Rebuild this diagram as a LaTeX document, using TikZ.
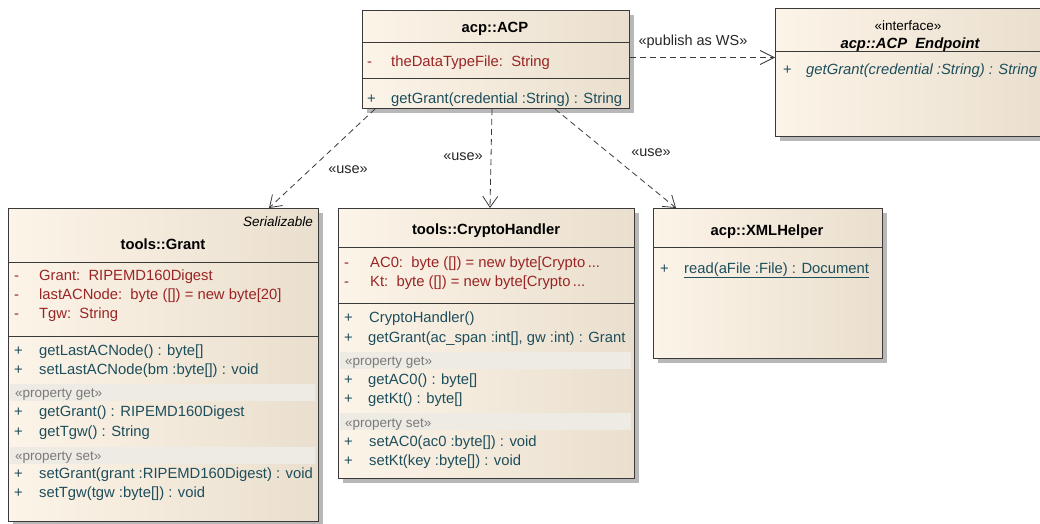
\documentclass[tikz,border=0pt]{standalone}
\usepackage{fontspec}
\setmainfont{Liberation Sans}
\usetikzlibrary{arrows.meta,shadows,calc}
\definecolor{attrc}{HTML}{9A2424}
\definecolor{opc}{HTML}{1D4E5C}
\definecolor{fillL}{HTML}{FCF4E8}
\definecolor{fillR}{HTML}{EADFCE}
\definecolor{bandc}{HTML}{EEEAE4}
\definecolor{edgec}{HTML}{3A3A3A}
\definecolor{stc}{HTML}{7A7A7A}
\newcommand\umlf{\fontsize{14.8}{17}\selectfont}
\newcommand\umlsf{\fontsize{13.5}{16}\selectfont}
\newcommand\umllf{\fontsize{14.5}{16}\selectfont}
\begin{document}
\begin{tikzpicture}[x=1pt,y=-1pt,
  box/.style={draw=edgec, line width=1pt, anchor=north west, inner sep=0,
    left color=fillL, right color=fillR,
    drop shadow={shadow xshift=4pt, shadow yshift=-4pt, fill=black!28, opacity=1}},
  sep/.style={draw=edgec, line width=1pt},
  band/.style={fill=bandc},
  ttl/.style={anchor=base, inner sep=0, font=\umlf\bfseries},
  attr/.style={anchor=base west, inner sep=0, font=\umlf, text=attrc},
  op/.style={anchor=base west, inner sep=0, font=\umlf, text=opc},
  st/.style={anchor=base west, inner sep=0, font=\umlsf, text=stc},
  dep/.style={draw=edgec, line width=0.8pt, dash pattern=on 6pt off 4pt,
    -{Straight Barb[length=11pt,width=15pt,line width=0.8pt]}},
  lbl/.style={inner sep=0, font=\umllf, text=black!85}]
\useasboundingbox (0,0) rectangle (1040,523);

% ---------- acp::ACP ----------
\node[box, minimum width=267pt, minimum height=98pt] (acp) at (362,10) {};
\draw[sep] (362,42) -- (629,42);
\draw[sep] (362,78) -- (629,78);
\node[ttl] (acpT) at (495,32) {acp::ACP};
\node[attr] (acpA1m) at (367,66) {-};
\node[attr] (acpA1) at (391,66) {theDataTypeFile:\ \ String};
\node[op] (acpO1m) at (367,103) {+};
\node[op] (acpO1) at (391,103) {getGrant(credential :String) : String};

% ---------- acp::ACP_Endpoint ----------
\node[box, minimum width=272pt, minimum height=128pt] (ep) at (775,8) {};
\draw[sep] (775,51) -- (1047,51);
\node[anchor=base, inner sep=0, font=\umlsf] (epS) at (908,30) {«interface»};
\node[anchor=base, inner sep=0, font=\umlf\bfseries\itshape] (epT) at (910,48) {acp::ACP\ \ Endpoint};
\node[op] (epO1m) at (783,74) {+};
\node[op, font=\umlf\itshape] (epO1) at (806,74) {getGrant(credential :String) : String};

% ---------- tools::Grant ----------
\node[box, minimum width=310pt, minimum height=313pt] (grant) at (8,208) {};
\draw[sep] (8,262) -- (318,262);
\draw[sep] (8,336) -- (318,336);
\node[anchor=base east, inner sep=0, font=\umlsf\itshape] (grS) at (313,226) {Serializable};
\node[ttl] (grT) at (163,249) {tools::Grant};
\node[attr] (grA1m) at (14,280) {-};
\node[attr] (grA1) at (39,280) {Grant:\ \ RIPEMD160Digest};
\node[attr] (grA2m) at (14,299) {-};
\node[attr] (grA2) at (39,299) {lastACNode:\ \ byte ([]) = new byte[20]};
\node[attr] (grA3m) at (14,318) {-};
\node[attr] (grA3) at (39,318) {Tgw:\ \ String};
\node[op] (grO1m) at (14,355) {+};
\node[op] (grO1) at (39,355) {getLastACNode() : byte[]};
\node[op] (grO2m) at (14,374) {+};
\node[op] (grO2) at (39,374) {setLastACNode(bm :byte[]) : void};
\fill[band] (10,384) rectangle (315,401);
\node[st] (grS1) at (15,397) {«property get»};
\node[op] (grO3m) at (14,416) {+};
\node[op] (grO3) at (39,416) {getGrant() : RIPEMD160Digest};
\node[op] (grO4m) at (14,436) {+};
\node[op] (grO4) at (39,436) {getTgw() : String};
\fill[band] (10,447) rectangle (315,464);
\node[st] (grS2) at (15,460) {«property set»};
\node[op] (grO5m) at (14,478) {+};
\node[op] (grO5) at (39,478) {setGrant(grant :RIPEMD160Digest) : void};
\node[op] (grO6m) at (14,497) {+};
\node[op] (grO6) at (39,497) {setTgw(tgw :byte[]) : void};

% ---------- tools::CryptoHandler ----------
\node[box, minimum width=296pt, minimum height=270pt] (cr) at (338,208) {};
\draw[sep] (338,247) -- (634,247);
\draw[sep] (338,303) -- (634,303);
\node[ttl] (crT) at (486,234) {tools::CryptoHandler};
\node[attr] (crA1m) at (344,267) {-};
\node[attr] (crA1) at (370,267) {AC0:\ \ byte ([]) = new byte[Crypto\,...};
\node[attr] (crA2m) at (344,286) {-};
\node[attr] (crA2) at (370,286) {Kt:\ \ byte ([]) = new byte[Crypto\,...};
\node[op] (crO1m) at (344,322) {+};
\node[op] (crO1) at (369,322) {CryptoHandler()};
\node[op] (crO2m) at (344,342) {+};
\node[op] (crO2) at (368,342) {getGrant(ac\_span :int[], gw :int) : Grant};
\fill[band] (340,352) rectangle (631,369);
\node[st] (crS1) at (345,365) {«property get»};
\node[op] (crO3m) at (344,384) {+};
\node[op] (crO3) at (368,384) {getAC0() : byte[]};
\node[op] (crO4m) at (344,403) {+};
\node[op] (crO4) at (368,403) {getKt() : byte[]};
\fill[band] (340,413) rectangle (631,430);
\node[st] (crS2) at (345,427) {«property set»};
\node[op] (crO5m) at (344,446) {+};
\node[op] (crO5) at (369,446) {setAC0(ac0 :byte[]) : void};
\node[op] (crO6m) at (344,465) {+};
\node[op] (crO6) at (369,465) {setKt(key :byte[]) : void};

% ---------- acp::XMLHelper ----------
\node[box, minimum width=229pt, minimum height=150pt] (xml) at (653,208) {};
\draw[sep] (653,247) -- (882,247);
\node[ttl] (xmT) at (767,235) {acp::XMLHelper};
\node[op] (xmO1m) at (660,273) {+};
\node[op] (xmO1) at (684,273) {\underline{read(aFile :File) : Document}};

% ---------- connectors ----------
\draw[dep] ([xshift=13pt]acp.south west) -- ([xshift=261pt]grant.north west);
\draw[dep] ([xshift=130pt]acp.south west) -- ([xshift=152pt]cr.north west);
\draw[dep] ([xshift=193pt]acp.south west) -- ([xshift=23pt]xml.north west);
\draw[dep, -{Straight Barb[length=14pt,width=14pt,line width=0.8pt]}] ([yshift=2pt]acp.east) -- ([yshift=15pt]ep.west);
\node[lbl] (l1) at (348,170) {«use»};
\node[lbl] (l2) at (463,157) {«use»};
\node[lbl] (l3) at (651,153) {«use»};
\node[lbl] (l4) at (693,42) {«publish as WS»};
\end{tikzpicture}
\end{document}
